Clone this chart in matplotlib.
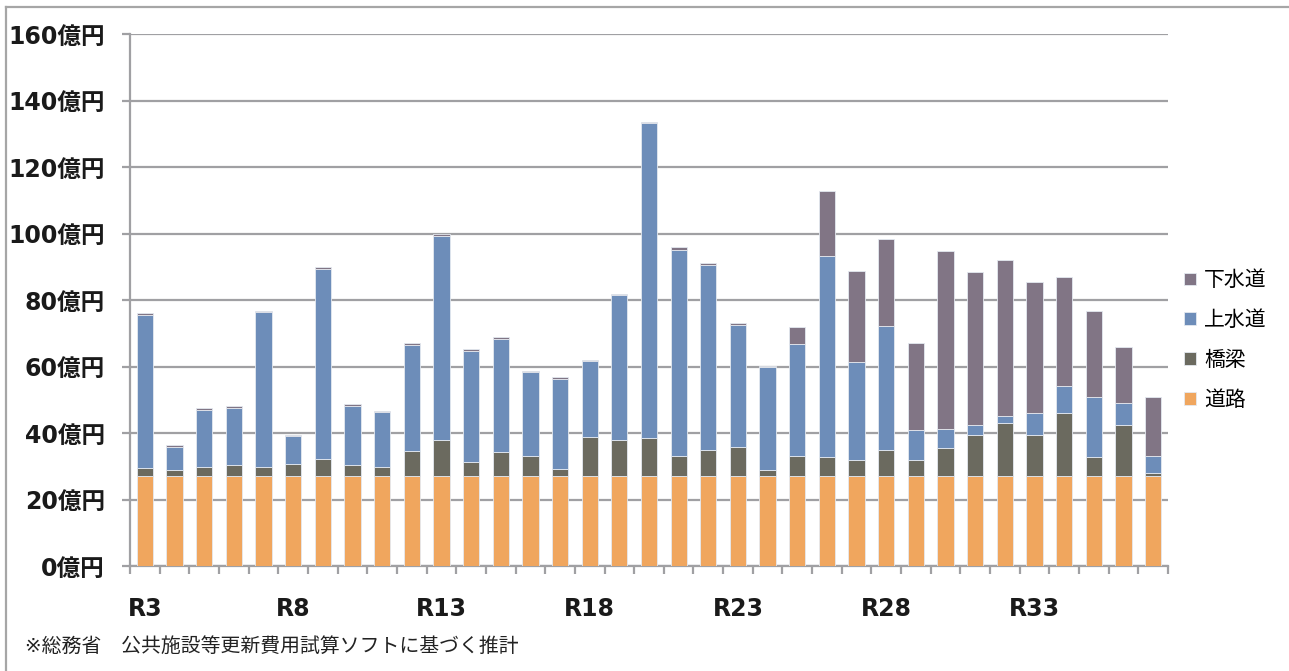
#!/usr/bin/env python3
"""Stacked bar chart: projected infrastructure renewal cost by year"""
import matplotlib
matplotlib.use('Agg')
import matplotlib.pyplot as plt
from matplotlib.lines import Line2D
import numpy as np

plt.rcParams['font.family'] = ['DejaVu Sans', 'Noto Sans CJK JP']

# Fiscal years R3..R37 (億円)
years = [f"R{n}" for n in range(3, 38)]
road = [27, 27, 27, 27, 27, 27, 27, 27, 27, 27,
        27, 27, 27, 27, 27, 27, 27, 27, 27, 27,
        27, 27, 27, 27, 27, 27, 27, 27, 27, 27,
        27, 27, 27, 27, 27]
bridge = [2.6, 1.9, 2.8, 3.4, 2.8, 3.8, 5.3, 3.5, 2.8, 7.6,
          11.0, 4.3, 7.2, 6.2, 2.3, 11.8, 11.0, 11.4, 6.2, 7.9,
          8.8, 1.8, 6.1, 5.9, 5.0, 7.9, 4.8, 8.6, 12.4, 16.0,
          12.4, 19.1, 5.7, 15.4, 0.9]
water = [46.0, 7.0, 17.0, 17.0, 46.6, 8.2, 57.1, 17.7, 16.4, 31.8,
         61.1, 33.5, 34.1, 25.0, 27.0, 22.8, 43.5, 94.7, 61.8, 55.5,
         36.8, 31.2, 33.7, 60.3, 29.3, 37.3, 9.1, 5.6, 3.0, 2.1,
         6.6, 8.1, 18.1, 6.7, 5.1]
sewer = [0.6, 0.6, 0.6, 0.6, 0.3, 0.3, 0.6, 0.5, 0.4, 0.6,
         0.6, 0.6, 0.6, 0.4, 0.4, 0.5, 0.4, 0.5, 0.8, 0.7,
         0.6, 0.3, 5.1, 19.5, 27.5, 26.0, 26.2, 53.5, 45.9, 47.0,
         39.5, 32.7, 25.8, 16.9, 17.9]

series = [
    ("道路", road, "#F0A65E"),
    ("橋梁", bridge, "#6B6A5F"),
    ("上水道", water, "#6D8DB9"),
    ("下水道", sewer, "#817585"),
]
yticks = [0, 20, 40, 60, 80, 100, 120, 140, 160]
label_every = 5
grid_col = "#A0A0A3"

W, H = 1289, 671
fig = plt.figure(figsize=(W / 100, H / 100), dpi=100)
ax = fig.add_axes([130 / W, 1 - 566 / H, (1168 - 130) / W, (566 - 34) / H])

x = np.arange(len(years))
bottom = np.zeros(len(years))
handles = []
for name, vals, col in series:
    bars = ax.bar(x, vals, width=0.55, bottom=bottom, color=col,
                  edgecolor="#E4E9F0", linewidth=0.6, label=name, zorder=3)
    bottom += np.array(vals)
    handles.append(bars)

ax.set_xlim(-0.5, len(years) - 0.5)
ax.set_ylim(0, 160)

# y axis: gridlines, outward ticks, labels in 億円
ax.set_yticks(yticks)
ax.set_yticklabels([f"{v}億円" for v in yticks], fontsize=17, fontweight="bold",
                   color="#1a1a1a")
ax.yaxis.grid(True, color=grid_col, linewidth=1.6, zorder=0)
ax.tick_params(axis="y", length=6, width=1.6, color=grid_col, pad=12)

# x axis: labels every 5 years, tick marks between categories
ax.set_xticks(x[::label_every])
ax.set_xticklabels(years[::label_every], fontsize=17, fontweight="bold",
                   color="#1a1a1a")
ax.tick_params(axis="x", which="major", length=0, pad=22)
ax.set_xticks(np.arange(-0.5, len(years)), minor=True)
ax.tick_params(axis="x", which="minor", length=6, width=1.6, color=grid_col)

for side in ("top", "right"):
    ax.spines[side].set_visible(False)
for side in ("left", "bottom"):
    ax.spines[side].set_color(grid_col)
    ax.spines[side].set_linewidth(1.6)

fig.legend(handles=handles[::-1], labels=[s[0] for s in series][::-1],
           loc="center left", bbox_to_anchor=(1176 / W, 1 - 340 / H),
           frameon=False, fontsize=15, handlelength=0.55, handleheight=0.55,
           handletextpad=0.4, labelspacing=0.95, borderaxespad=0)

fig.text(25 / W, 1 - 646 / H, "※総務省　公共施設等更新費用試算ソフトに基づく推計",
         fontsize=14.3, va="center", ha="left", color="#222222")

# outer frame around the chart (open at right and bottom edges)
fig.add_artist(Line2D([6 / W, 6 / W], [0, 1 - 7 / H], transform=fig.transFigure,
                      color="#A6A6A6", linewidth=1.6))
fig.add_artist(Line2D([6 / W, 1], [1 - 7 / H, 1 - 7 / H], transform=fig.transFigure,
                      color="#A6A6A6", linewidth=1.6))

fig.savefig("out.png", dpi=100)
